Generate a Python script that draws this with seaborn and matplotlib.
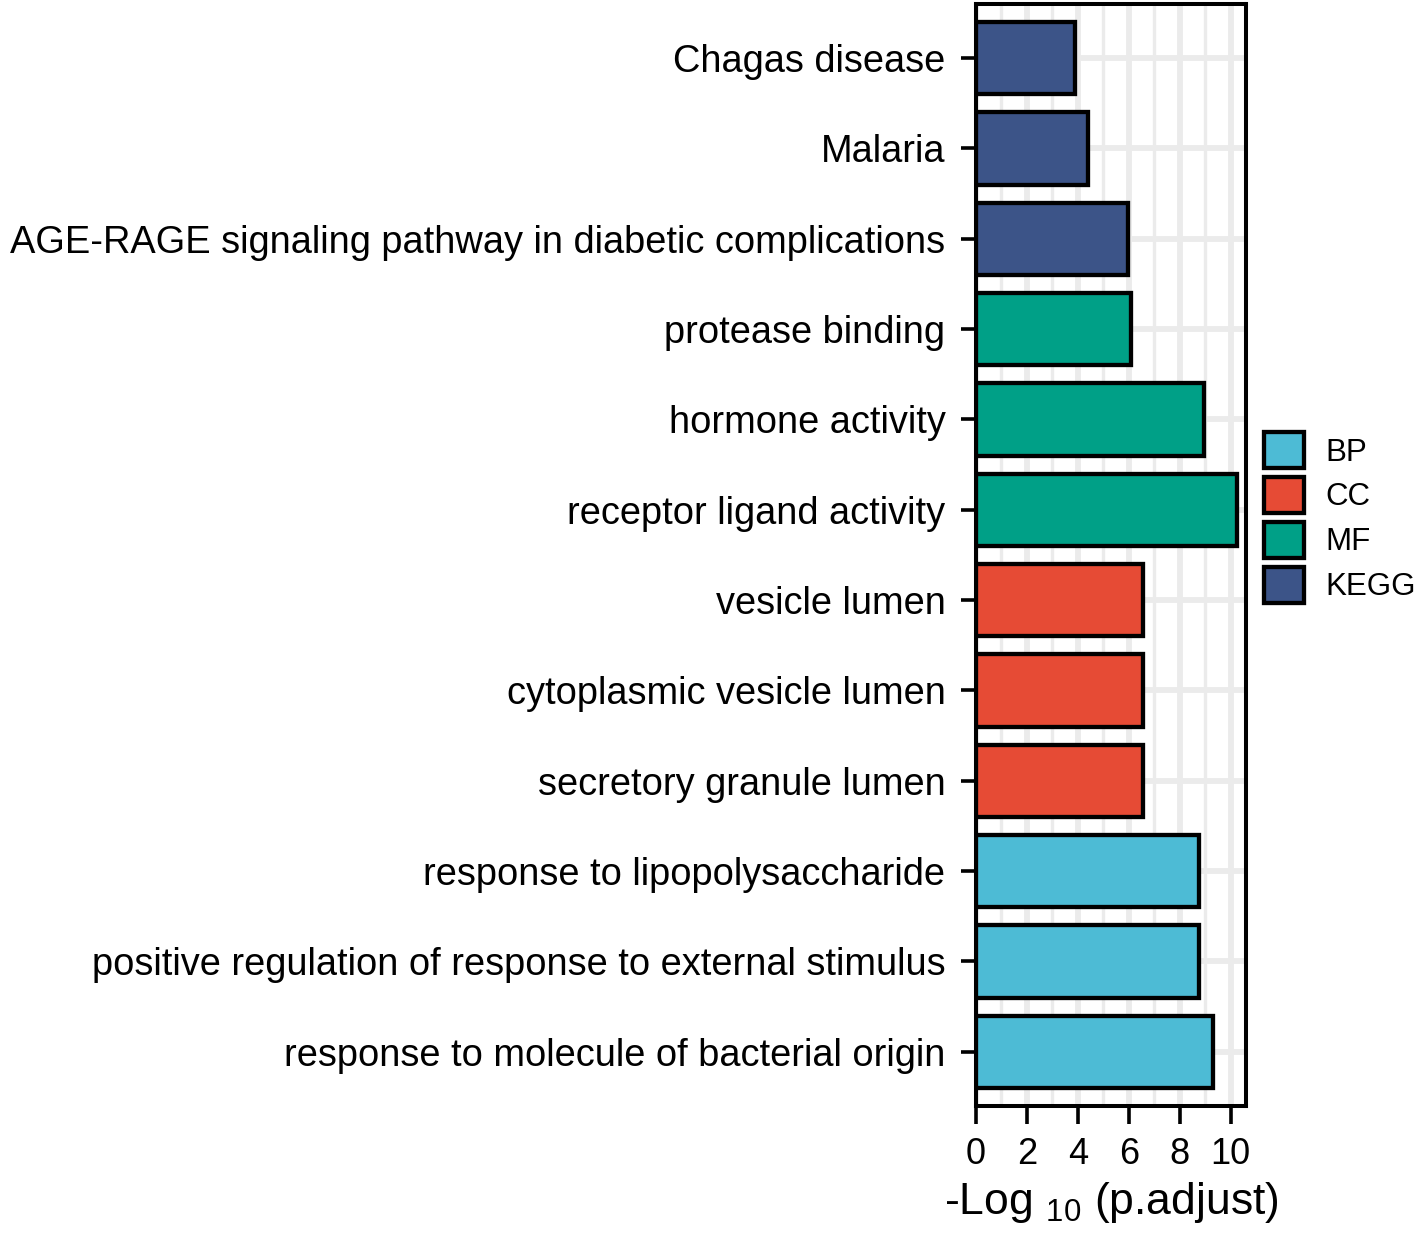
import matplotlib
matplotlib.use("Agg")
import matplotlib.pyplot as plt
import seaborn as sns
import pandas as pd
from matplotlib.patches import Patch
from matplotlib.ticker import MultipleLocator

terms = [
    "Chagas disease",
    "Malaria",
    "AGE-RAGE signaling pathway in diabetic complications",
    "protease binding",
    "hormone activity",
    "receptor ligand activity",
    "vesicle lumen",
    "cytoplasmic vesicle lumen",
    "secretory granule lumen",
    "response to lipopolysaccharide",
    "positive regulation of response to external stimulus",
    "response to molecule of bacterial origin",
]
categories = ["KEGG", "KEGG", "KEGG", "MF", "MF", "MF", "CC", "CC", "CC", "BP", "BP", "BP"]
values = [3.88, 4.4, 5.98, 6.08, 8.97, 10.24, 6.55, 6.55, 6.55, 8.74, 8.74, 9.3]

cat_order = ["BP", "CC", "MF", "KEGG"]
cat_colors = ["#4DBBD5", "#E64B35", "#00A087", "#3C5488"]

df = pd.DataFrame({"term": terms, "category": categories, "value": values})

sns.set_style("white")
plt.rcParams["font.family"] = ["Liberation Sans", "DejaVu Sans"]
plt.rcParams["mathtext.fontset"] = "custom"
plt.rcParams["mathtext.rm"] = "Liberation Sans"
plt.rcParams["text.color"] = "black"
plt.rcParams["axes.labelcolor"] = "black"
plt.rcParams["xtick.color"] = "black"
plt.rcParams["ytick.color"] = "black"

fig = plt.figure(figsize=(14.18, 12.41), dpi=100)
ax = fig.add_axes([0.6883, 0.1088, 0.8787 - 0.6883, 0.9968 - 0.1088])

sns.barplot(data=df, x="value", y="term", hue="category", hue_order=cat_order,
            palette=dict(zip(cat_order, cat_colors)), dodge=False, order=terms,
            saturation=1, edgecolor="black", linewidth=3.1, width=0.8, ax=ax,
            legend=False, zorder=3)

ax.set_xlim(0, 10.6)
ax.set_ylim(len(terms) - 0.4, -0.6)
ax.xaxis.set_major_locator(MultipleLocator(2))
ax.xaxis.set_minor_locator(MultipleLocator(1))
ax.grid(True, which="major", axis="both", color="#EBEBEB", linewidth=4.2, zorder=0)
ax.grid(True, which="minor", axis="x", color="#EBEBEB", linewidth=2.4, zorder=0)
ax.set_axisbelow(True)

for s in ax.spines.values():
    s.set_visible(True)
    s.set_color("black")
    s.set_linewidth(2.9)

ax.tick_params(axis="y", which="major", length=11, width=2.6, pad=11,
               labelsize=27.4, colors="black", left=True)
ax.tick_params(axis="x", which="major", length=13, width=2.6, pad=9,
               labelsize=26, colors="black", bottom=True)
ax.tick_params(axis="x", which="minor", length=0)

ax.set_ylabel("")
ax.set_xlabel(r"-Log $_{\mathregular{10}}$ (p.adjust)", fontsize=32, labelpad=6,
              color="black")

handles = [Patch(facecolor=c, edgecolor="black", linewidth=3.1, label=l)
           for l, c in zip(cat_order, cat_colors)]
fig.legend(handles=handles, loc="center left", bbox_to_anchor=(0.8828, 0.583),
           frameon=False, fontsize=22.5, handlelength=1.28, handleheight=1.4,
           labelspacing=0.28, handletextpad=0.68, borderaxespad=0)

fig.savefig("out.png", dpi=100)
